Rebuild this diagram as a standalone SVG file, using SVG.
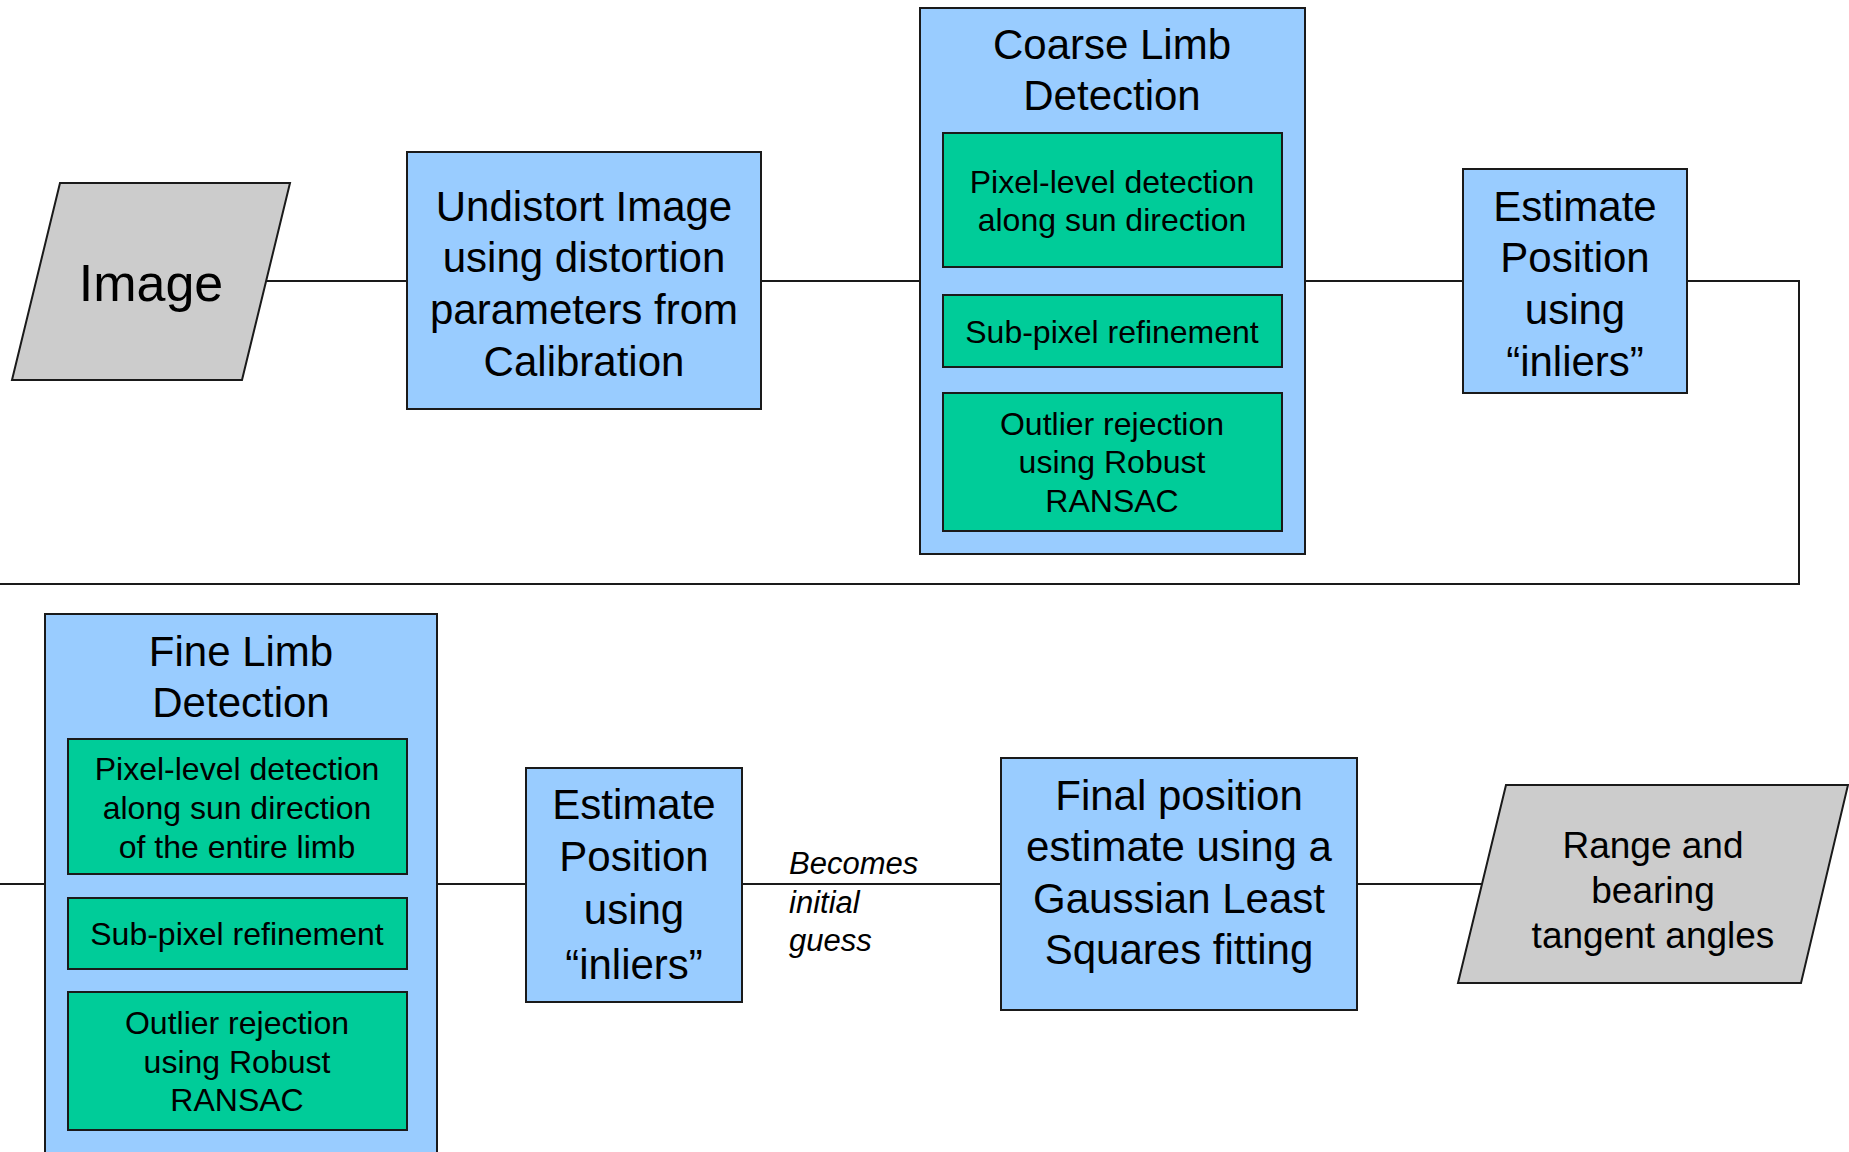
<svg xmlns="http://www.w3.org/2000/svg" width="1849" height="1152" viewBox="0 0 1849 1152">
<style>
.blue{fill:#99ccff;stroke:#1a1a1a;stroke-width:2}
.green{fill:#00cc99;stroke:#1a1a1a;stroke-width:2}
.gray{fill:#cccccc;stroke:#1a1a1a;stroke-width:2}
.conn{fill:none;stroke:#1a1a1a;stroke-width:2}
text{font-family:"Liberation Sans",Arial,sans-serif;fill:#000;text-anchor:middle}
.big{font-size:42px}
.med{font-size:32px}
.it{font-size:31px;font-style:italic;text-anchor:start}
</style>
<rect width="1849" height="1152" fill="#fff"/>
<g id="connectors">
<line class="conn" x1="266" y1="281" x2="407" y2="281"/>
<line class="conn" x1="761" y1="281" x2="920" y2="281"/>
<line class="conn" x1="1305" y1="281" x2="1463" y2="281"/>
<polyline class="conn" points="1687,281 1799,281 1799,584 0,584"/>
<line class="conn" x1="0" y1="884" x2="45" y2="884"/>
<line class="conn" x1="437" y1="884" x2="526" y2="884"/>
<line class="conn" x1="742" y1="884" x2="1001" y2="884"/>
<line class="conn" x1="1357" y1="884" x2="1482" y2="884"/>
</g>
<g id="image">
<polygon class="gray" points="60,183 290,183 242,380 12,380"/>
<text x="151" y="301" style="font-size:52px">Image</text>
</g>
<g id="undistort">
<rect class="blue" x="407" y="152" width="354" height="257"/>
<text class="big" x="584" y="221">Undistort Image</text>
<text class="big" x="584" y="272">using distortion</text>
<text class="big" x="584" y="324">parameters from</text>
<text class="big" x="584" y="376">Calibration</text>
</g>
<g id="coarse">
<rect class="blue" x="920" y="8" width="385" height="546"/>
<text class="big" x="1112" y="59">Coarse Limb</text>
<text class="big" x="1112" y="110">Detection</text>
<g id="coarse-pixel">
<rect class="green" x="943" y="133" width="339" height="134"/>
<text class="med" x="1112" y="193">Pixel-level detection</text>
<text class="med" x="1112" y="231">along sun direction</text>
</g>
<g id="coarse-subpixel">
<rect class="green" x="943" y="295" width="339" height="72"/>
<text class="med" x="1112" y="343">Sub-pixel refinement</text>
</g>
<g id="coarse-outlier">
<rect class="green" x="943" y="393" width="339" height="138"/>
<text class="med" x="1112" y="435">Outlier rejection</text>
<text class="med" x="1112" y="473">using Robust</text>
<text class="med" x="1112" y="512">RANSAC</text>
</g>
</g>
<g id="estimate1">
<rect class="blue" x="1463" y="169" width="224" height="224"/>
<text class="big" x="1575" y="221">Estimate</text>
<text class="big" x="1575" y="272">Position</text>
<text class="big" x="1575" y="324">using</text>
<text class="big" x="1575" y="376">“inliers”</text>
</g>
<g id="fine">
<rect class="blue" x="45" y="614" width="392" height="560"/>
<text class="big" x="241" y="666">Fine Limb</text>
<text class="big" x="241" y="717">Detection</text>
<g id="fine-pixel">
<rect class="green" x="68" y="739" width="339" height="135"/>
<text class="med" x="237" y="780">Pixel-level detection</text>
<text class="med" x="237" y="819">along sun direction</text>
<text class="med" x="237" y="858">of the entire limb</text>
</g>
<g id="fine-subpixel">
<rect class="green" x="68" y="898" width="339" height="71"/>
<text class="med" x="237" y="945">Sub-pixel refinement</text>
</g>
<g id="fine-outlier">
<rect class="green" x="68" y="992" width="339" height="138"/>
<text class="med" x="237" y="1034">Outlier rejection</text>
<text class="med" x="237" y="1073">using Robust</text>
<text class="med" x="237" y="1111">RANSAC</text>
</g>
</g>
<g id="estimate2">
<rect class="blue" x="526" y="768" width="216" height="234"/>
<text class="big" x="634" y="819">Estimate</text>
<text class="big" x="634" y="871">Position</text>
<text class="big" x="634" y="924">using</text>
<text class="big" x="634" y="979">“inliers”</text>
</g>
<g id="becomes-label">
<text class="it" x="789" y="874">Becomes</text>
<text class="it" x="789" y="913">initial</text>
<text class="it" x="789" y="951">guess</text>
</g>
<g id="final">
<rect class="blue" x="1001" y="758" width="356" height="252"/>
<text class="big" x="1179" y="810">Final position</text>
<text class="big" x="1179" y="861">estimate using a</text>
<text class="big" x="1179" y="913">Gaussian Least</text>
<text class="big" x="1179" y="964">Squares fitting</text>
</g>
<g id="range">
<polygon class="gray" points="1506,785 1848,785 1801,983 1458,983"/>
<text x="1653" y="858" style="font-size:37px">Range and</text>
<text x="1653" y="903" style="font-size:37px">bearing</text>
<text x="1653" y="948" style="font-size:37px">tangent angles</text>
</g>
</svg>
